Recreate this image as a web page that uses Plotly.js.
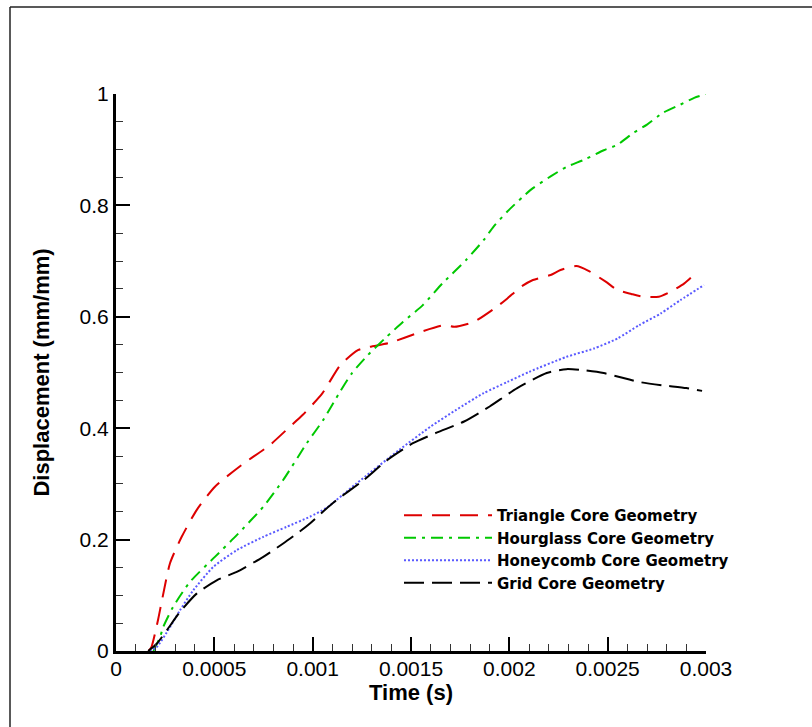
<!DOCTYPE html>
<html>
<head>
<meta charset="utf-8">
<script src="https://cdn.plot.ly/plotly-3.0.1.min.js"></script>
<style>
  html, body { margin: 0; padding: 0; background: #ffffff; }
  #chart { width: 812px; height: 727px; }
</style>
</head>
<body>
<div id="chart"></div>
<script>
// ---- Data ----
const seriesNames = ["Triangle Core Geometry", "Hourglass Core Geometry", "Honeycomb Core Geometry", "Grid Core Geometry"];

const triangleX = [0.000165, 0.00018, 0.000215, 0.000232, 0.000275, 0.000334, 0.00041, 0.000503, 0.000639, 0.000783, 0.000885, 0.00095, 0.00105, 0.00114, 0.00123, 0.00129, 0.00139, 0.00155, 0.00167, 0.00172, 0.00182, 0.00194, 0.00199, 0.00206, 0.00212, 0.00221, 0.00226, 0.00234, 0.0024, 0.00249, 0.00255, 0.00262, 0.00268, 0.00276, 0.00282, 0.00289, 0.00296];
const triangleY = [0.0, 0.007, 0.058, 0.088, 0.158, 0.205, 0.253, 0.295, 0.334, 0.370, 0.403, 0.424, 0.463, 0.513, 0.540, 0.546, 0.553, 0.573, 0.585, 0.582, 0.591, 0.619, 0.633, 0.654, 0.666, 0.675, 0.684, 0.691, 0.683, 0.663, 0.648, 0.641, 0.636, 0.636, 0.645, 0.660, 0.682];

const hourglassX = [0.00019, 0.0002, 0.000224, 0.00024, 0.00029, 0.000376, 0.000503, 0.000614, 0.000749, 0.00085, 0.00097, 0.001054, 0.00114, 0.0012, 0.00128, 0.001376, 0.00146, 0.00156, 0.00166, 0.00178, 0.00187, 0.00192, 0.00199, 0.00207, 0.00212, 0.00221, 0.00229, 0.00238, 0.00248, 0.00255, 0.00263, 0.0027, 0.00278, 0.00287, 0.00294, 0.003];
const hourglassY = [0.0, 0.007, 0.025, 0.043, 0.079, 0.124, 0.169, 0.208, 0.259, 0.307, 0.373, 0.415, 0.466, 0.499, 0.531, 0.564, 0.591, 0.621, 0.660, 0.702, 0.738, 0.762, 0.789, 0.816, 0.831, 0.852, 0.869, 0.882, 0.899, 0.909, 0.930, 0.945, 0.966, 0.981, 0.993, 1.0];

const honeycombX = [0.00017, 0.000207, 0.000275, 0.000325, 0.000393, 0.000495, 0.000614, 0.000749, 0.000868, 0.000986, 0.00107, 0.00122, 0.00144, 0.0016, 0.00173, 0.00187, 0.00199, 0.0021, 0.00229, 0.00243, 0.00255, 0.00266, 0.00277, 0.00287, 0.00299];
const honeycombY = [0.0, 0.007, 0.043, 0.073, 0.109, 0.151, 0.181, 0.205, 0.223, 0.241, 0.257, 0.300, 0.361, 0.403, 0.433, 0.463, 0.483, 0.501, 0.528, 0.543, 0.561, 0.585, 0.606, 0.630, 0.657];

const gridX = [0.000164, 0.000207, 0.000258, 0.000325, 0.00041, 0.000512, 0.000614, 0.000749, 0.00085, 0.000936, 0.000986, 0.0011, 0.00126, 0.00138, 0.00151, 0.00163, 0.00177, 0.0019, 0.00204, 0.00219, 0.00229, 0.00238, 0.00248, 0.00256, 0.00266, 0.00278, 0.0029, 0.00298];
const gridY = [0.0, 0.013, 0.037, 0.070, 0.103, 0.127, 0.142, 0.169, 0.193, 0.215, 0.229, 0.265, 0.307, 0.343, 0.373, 0.392, 0.412, 0.439, 0.472, 0.499, 0.506, 0.504, 0.499, 0.492, 0.483, 0.477, 0.472, 0.467];

const xTickVals = [0, 0.0005, 0.001, 0.0015, 0.002, 0.0025, 0.003];
const xTickText = ["0", "0.0005", "0.001", "0.0015", "0.002", "0.0025", "0.003"];
const yTickVals = [0, 0.2, 0.4, 0.6, 0.8, 1];
const yTickText = ["0", "0.2", "0.4", "0.6", "0.8", "1"];

// ---- Traces ----
const lineShape = { shape: "spline", smoothing: 0.6 };
const traces = [
  { x: triangleX, y: triangleY, name: seriesNames[0], mode: "lines",
    line: Object.assign({ color: "#dd0000", width: 2, dash: "18px,10px" }, lineShape) },
  { x: hourglassX, y: hourglassY, name: seriesNames[1], mode: "lines",
    line: Object.assign({ color: "#00c800", width: 2, dash: "12px,6px,3px,6px" }, lineShape) },
  { x: honeycombX, y: honeycombY, name: seriesNames[2], mode: "lines",
    line: Object.assign({ color: "#5a5aff", width: 2, dash: "2px,2px" }, lineShape) },
  { x: gridX, y: gridY, name: seriesNames[3], mode: "lines",
    line: Object.assign({ color: "#000000", width: 2, dash: "20px,8px" }, lineShape) }
];

// ---- Layout ----
const L = 116, R = 106, T = 94, B = 76, W = 812, H = 727;
const pw = W - L - R, ph = H - T - B;
const px = v => (v - L) / pw;          // page x -> paper x
const py = v => (H - B - v) / ph;      // page y -> paper y

const axisFont = { family: "Liberation Sans, Arial, sans-serif", size: 21, color: "#000" };
const titleFont = { family: "Liberation Sans, Arial, sans-serif", size: 22, color: "#000", weight: "bold" };

const layout = {
  width: W, height: H,
  margin: { l: L, r: R, t: T, b: B, pad: 0 },
  paper_bgcolor: "#ffffff",
  plot_bgcolor: "#ffffff",
  showlegend: true,
  legend: {
    x: px(399), y: py(499), xanchor: "left", yanchor: "top",
    bgcolor: "rgba(0,0,0,0)",
    font: { family: "DejaVu Sans, sans-serif", size: 15, color: "#000", weight: "bold" },
    itemwidth: 88,
    tracegroupgap: 0
  },
  xaxis: {
    range: [0, 0.003],
    showgrid: false, zeroline: false,
    showline: true, linecolor: "#000", linewidth: 3,
    ticks: "inside", ticklen: 14, tickwidth: 2, tickcolor: "#000",
    tickmode: "array", tickvals: xTickVals, ticktext: xTickText,
    tickfont: axisFont, ticklabelstandoff: -3,
    minor: { dtick: 0.0001, tick0: 0, ticks: "inside", ticklen: 7, tickwidth: 1, tickcolor: "#333", showgrid: false },
    title: { text: "Time (s)", font: titleFont, standoff: 6 },
    automargin: false
  },
  yaxis: {
    range: [0, 1],
    showgrid: false, zeroline: false,
    showline: true, linecolor: "#000", linewidth: 3,
    ticks: "inside", ticklen: 14, tickwidth: 2, tickcolor: "#000",
    tickmode: "array", tickvals: yTickVals, ticktext: yTickText,
    tickfont: axisFont,
    minor: { dtick: 0.05, tick0: 0, ticks: "inside", ticklen: 7, tickwidth: 1, tickcolor: "#333", showgrid: false },
    title: { text: "Displacement (mm/mm)", font: titleFont, standoff: 24 },
    automargin: false
  },
  shapes: [
    { type: "line", xref: "paper", yref: "paper", x0: px(10), x1: px(10), y0: py(727), y1: py(7),
      line: { color: "#222", width: 1.5 } },
    { type: "line", xref: "paper", yref: "paper", x0: px(10), x1: px(812), y0: py(7), y1: py(7),
      line: { color: "#222", width: 1.5 } }
  ]
};

Plotly.newPlot("chart", traces, layout, { displayModeBar: false, staticPlot: true });
</script>
</body>
</html>
